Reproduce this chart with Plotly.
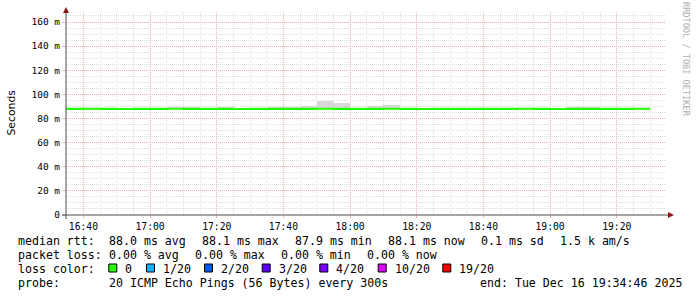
import plotly.graph_objects as go

# ---------------- data ----------------
DAY = "2025-12-16"
bin_starts = ["16:30", "16:35", "16:40", "16:45", "16:50", "16:55",
              "17:00", "17:05", "17:10", "17:15", "17:20", "17:25",
              "17:30", "17:35", "17:40", "17:45", "17:50", "17:55",
              "18:00", "18:05", "18:10", "18:15", "18:20", "18:25",
              "18:30", "18:35", "18:40", "18:45", "18:50", "18:55",
              "19:00", "19:05", "19:10", "19:15", "19:20", "19:25"]
bin_end = "19:30"
median_ms = [88.0, 88.0, 88.1, 88.0, 87.9, 88.0, 88.0, 88.1, 88.0, 88.0,
             88.0, 87.9, 88.0, 88.0, 88.0, 88.0, 88.1, 88.0, 88.0, 88.0,
             88.1, 88.0, 87.9, 88.0, 88.0, 88.0, 88.0, 88.0, 88.1, 88.0,
             87.9, 88.0, 88.0, 88.0, 88.0, 88.1]
ping_min_ms = [87.6, 87.6, 87.7, 87.6, 87.5, 87.6, 87.6, 87.7, 87.6, 87.6,
               87.6, 87.5, 87.6, 87.6, 87.6, 87.6, 87.7, 87.6, 87.6, 87.6,
               87.7, 87.6, 87.5, 87.6, 87.6, 87.6, 87.6, 87.6, 87.7, 87.6,
               87.5, 87.6, 87.6, 87.6, 87.6, 87.7]
ping_max_ms = [88.6, 88.5, 88.6, 88.5, 88.6, 88.5, 88.6, 89.6, 89.6, 88.7,
               89.4, 88.7, 88.6, 89.4, 89.5, 90.4, 94.8, 93.0, 88.8, 90.4,
               91.2, 88.7, 88.6, 88.6, 88.6, 88.6, 88.6, 88.6, 88.6, 88.6,
               88.6, 89.5, 89.5, 88.6, 88.6, 88.6]

y_tick_vals = [0, 20, 40, 60, 80, 100, 120, 140, 160]
y_tick_text = ["0", "20 m", "40 m", "60 m", "80 m", "100 m", "120 m", "140 m", "160 m"]

row1 = [("median rtt:", 16), ("88.0 ms avg", 107.3), ("88.1 ms max", 200),
        ("87.9 ms min", 292.7), ("88.1 ms now", 386), ("0.1 ms sd", 479.3),
        ("1.5 k am/s", 558.3)]
row2 = [("packet loss:", 16), ("0.00 % avg", 107.3), ("0.00 % max", 193.3),
        ("0.00 % min", 279.3), ("0.00 % now", 365)]
loss_labels = ["0", "1/20", "2/20", "3/20", "4/20", "10/20", "19/20"]
loss_colors = ["#26ff00", "#00b8ff", "#0059ff", "#5e00ff", "#7e00ff", "#dd00ff", "#ff0000"]
loss_box_x = [108.3, 146, 204, 261.7, 319.3, 377.7, 442.3]
row4 = [("probe:", 16), ("20 ICMP Echo Pings (56 Bytes) every 300s", 107.3),
        ("end: Tue Dec 16 19:34:46 2025", 478.3)]

# ---------------- geometry helpers ----------------
W, H = 697, 297
L, R, T, B = 66, 31, 12, 82
PW, PH = W - L - R, H - T - B
def px(x):
    return (x - L) / PW
def py(y):
    return (H - B - y) / PH

times = [f"{DAY} {t}:00" for t in bin_starts]
line_x = times + [f"{DAY} {bin_end}:00"]
line_y = median_ms + [median_ms[-1]]

fig = go.Figure()
fig.add_trace(go.Bar(
    x=times, y=[hi - lo for hi, lo in zip(ping_max_ms, ping_min_ms)],
    base=ping_min_ms, width=300000, offset=0,
    marker=dict(color="#d8d8d8", line=dict(width=0)),
    hoverinfo="skip", showlegend=False))
fig.add_trace(go.Scatter(
    x=line_x, y=line_y, mode="lines", line=dict(color="#22ff00", width=2.2, shape="hv"),
    showlegend=False))

MONO = "DejaVu Sans Mono"
grid_major = "#edb2b2"
grid_minor = "#dedede"
DASH = "1px,1px"

fig.update_layout(
    width=W, height=H, margin=dict(l=L, r=R, t=T, b=B, pad=0),
    paper_bgcolor="white", plot_bgcolor="white",
    barmode="overlay", bargap=0, showlegend=False,
    xaxis=dict(
        type="date", range=[f"{DAY} 16:34:46", f"{DAY} 19:34:46"],
        tickformat="%H:%M", dtick=1200000, tick0=f"{DAY} 16:40:00",
        showgrid=True, gridcolor=grid_major, griddash=DASH, gridwidth=1,
        ticks="outside", ticklen=2, tickcolor=grid_major,
        tickfont=dict(family=MONO, size=9.7, color="black"),
        minor=dict(dtick=300000, tick0=f"{DAY} 16:40:00", showgrid=True,
                   gridcolor=grid_minor, griddash=DASH, ticks=""),
        showline=False, zeroline=False, fixedrange=True),
    yaxis=dict(
        range=[0, 168.3], tickvals=y_tick_vals, ticktext=y_tick_text,
        showgrid=True, gridcolor=grid_major, griddash=DASH, gridwidth=1,
        ticks="outside", ticklen=3, tickcolor=grid_major,
        tickfont=dict(family=MONO, size=9.5, color="black"),
        minor=dict(dtick=5, showgrid=True, gridcolor=grid_minor,
                   griddash=DASH, ticks=""),
        showline=False, zeroline=False, fixedrange=True),
)

shapes = []
axis_col = "#4a4a4a"
arrow_col = "#8b1a1a"
# x axis line + arrow
shapes.append(dict(type="line", xref="paper", yref="paper", x0=px(62), x1=px(669),
                   y0=py(215), y1=py(215), line=dict(color=axis_col, width=1)))
shapes.append(dict(type="path", xref="paper", yref="paper",
                   path=f"M {px(668)} {py(212)} L {px(674)} {py(215)} L {px(668)} {py(218)} Z",
                   fillcolor=arrow_col, line=dict(width=0)))
# y axis line + arrow
shapes.append(dict(type="line", xref="paper", yref="paper", x0=px(66), x1=px(66),
                   y0=py(219), y1=py(12), line=dict(color=axis_col, width=1)))
shapes.append(dict(type="path", xref="paper", yref="paper",
                   path=f"M {px(63)} {py(13)} L {px(66)} {py(7)} L {px(69)} {py(13)} Z",
                   fillcolor=arrow_col, line=dict(width=0)))
# loss color boxes
for bx, col in zip(loss_box_x, loss_colors):
    shapes.append(dict(type="rect", xref="paper", yref="paper",
                       x0=px(bx + 0.5), x1=px(bx + 8.5), y0=py(272), y1=py(264),
                       fillcolor=col, line=dict(color="black", width=1)))
fig.update_layout(shapes=shapes)

ann = []
def text(s, x, y, size=11.6, color="black", family=MONO, angle=0, xanchor="left"):
    ann.append(dict(text=s, xref="paper", yref="paper", x=px(x), y=py(y),
                    xanchor=xanchor, yanchor="middle", showarrow=False,
                    textangle=angle, font=dict(family=family, size=size, color=color)))

rows_y = [240.8, 255.0, 269.0, 283.0]
for s, x in row1:
    text(s, x, rows_y[0])
for s, x in row2:
    text(s, x, rows_y[1])
text("loss color:", 16, rows_y[2])
for lab, bx in zip(loss_labels, loss_box_x):
    text(lab, bx + 15, rows_y[2])
for s, x in row4:
    text(s, x, rows_y[3])

text("Seconds", 11.5, 113, size=10.8, family="DejaVu Sans", angle=-90, xanchor="center")
text("RRDTOOL / TOBI OETIKER", 686, 59, size=8.6, color="#b0b0b0", angle=90, xanchor="center")
fig.update_layout(annotations=ann)

fig.write_html("out.html")
